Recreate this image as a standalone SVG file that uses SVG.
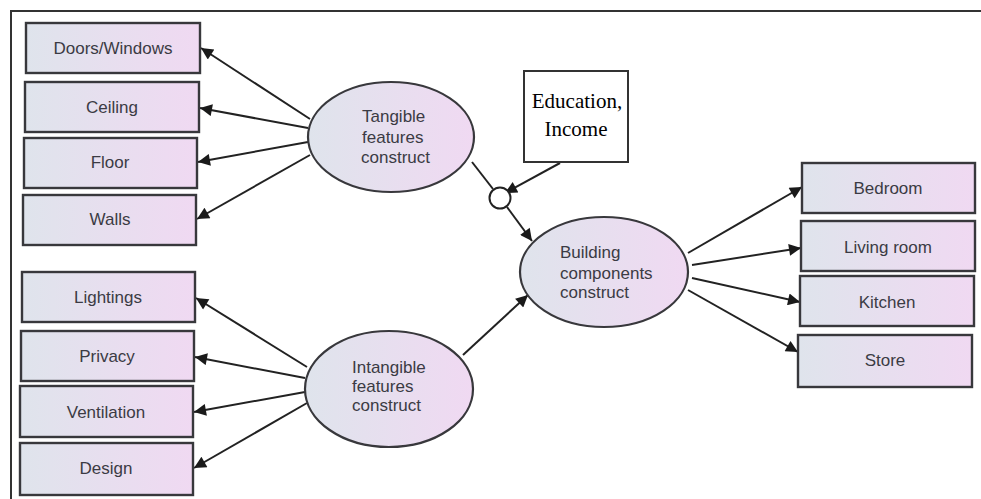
<svg xmlns="http://www.w3.org/2000/svg" width="981" height="499" viewBox="0 0 981 499">
<defs>
<linearGradient id="g" x1="0" y1="0" x2="1" y2="0">
<stop offset="0" stop-color="#dfe4ec"/>
<stop offset="1" stop-color="#f0d9f2"/>
</linearGradient>
<marker id="ah2" viewBox="0 0 10 10" refX="10" refY="5" markerWidth="16" markerHeight="12" markerUnits="userSpaceOnUse" orient="auto">
<path d="M0,0 L10,5 L0,10 z" fill="#1a1a1a"/>
</marker>
</defs>
<style>
.box{fill:url(#g);stroke:#38383c;stroke-width:2.4}
.ell{fill:url(#g);stroke:#38383c;stroke-width:2.2}
.t{font-family:"Liberation Sans",Arial,sans-serif;font-size:17px;fill:#3b3b44;text-anchor:middle}
.te{font-family:"Liberation Sans",Arial,sans-serif;font-size:17px;fill:#3b3b44}
.ts{font-family:"Liberation Serif","Times New Roman",serif;font-size:21px;fill:#000;text-anchor:middle}
.c{stroke:#222;stroke-width:2;fill:none;marker-end:url(#ah2)}
.cn{stroke:#222;stroke-width:2;fill:none}
</style>
<rect width="981" height="499" fill="#fff"/>
<path d="M11,499 L11,11 L981,11" fill="none" stroke="#333" stroke-width="2"/>

<g id="connectors">
<line class="c" x1="310" y1="119" x2="201" y2="48"/>
<line class="c" x1="308" y1="128" x2="200" y2="108"/>
<line class="c" x1="308" y1="142" x2="198" y2="162"/>
<line class="c" x1="310" y1="155" x2="197" y2="219"/>
<line class="c" x1="307" y1="367" x2="196" y2="298"/>
<line class="c" x1="305" y1="378" x2="195" y2="357"/>
<line class="c" x1="305" y1="392" x2="194" y2="412"/>
<line class="c" x1="307" y1="403" x2="194" y2="468"/>
<line class="c" x1="463" y1="355" x2="528" y2="295"/>
<line class="cn" x1="472" y1="162" x2="493" y2="189"/>
<line class="c" x1="507" y1="207" x2="532" y2="241"/>
<line class="c" x1="560" y1="163" x2="505" y2="193"/>
<line class="c" x1="688" y1="253" x2="802" y2="187"/>
<line class="c" x1="692" y1="265" x2="801" y2="248"/>
<line class="c" x1="692" y1="278" x2="800" y2="302"/>
<line class="c" x1="688" y1="290" x2="798" y2="352"/>
</g>

<g id="n-doors"><rect class="box" x="26" y="23" width="174" height="50"/><text class="t" x="113" y="54">Doors/Windows</text></g>
<g id="n-ceiling"><rect class="box" x="25" y="82" width="174" height="50"/><text class="t" x="112" y="113">Ceiling</text></g>
<g id="n-floor"><rect class="box" x="24" y="138" width="173" height="50"/><text class="t" x="110" y="168">Floor</text></g>
<g id="n-walls"><rect class="box" x="23" y="195" width="173" height="50"/><text class="t" x="110" y="225">Walls</text></g>
<g id="n-lightings"><rect class="box" x="22" y="272" width="173" height="50"/><text class="t" x="108" y="303">Lightings</text></g>
<g id="n-privacy"><rect class="box" x="21" y="331" width="173" height="50"/><text class="t" x="107" y="362">Privacy</text></g>
<g id="n-ventilation"><rect class="box" x="20" y="386" width="173" height="51"/><text class="t" x="106" y="418">Ventilation</text></g>
<g id="n-design"><rect class="box" x="20" y="443" width="173" height="52"/><text class="t" x="106" y="474">Design</text></g>

<g id="n-tangible"><ellipse class="ell" cx="391" cy="137" rx="83" ry="55"/>
<text class="te" x="362" y="122">Tangible</text><text class="te" x="362" y="143">features</text><text class="te" x="361" y="163">construct</text></g>
<g id="n-intangible"><ellipse class="ell" cx="389" cy="389" rx="84" ry="58"/>
<text class="te" x="352" y="373">Intangible</text><text class="te" x="352" y="392">features</text><text class="te" x="352" y="411">construct</text></g>
<g id="n-building"><ellipse class="ell" cx="604" cy="272" rx="84" ry="55"/>
<text class="te" x="560" y="258">Building</text><text class="te" x="560" y="279">components</text><text class="te" x="560" y="298">construct</text></g>

<g id="n-education"><rect x="524" y="71" width="104" height="91" fill="#fff" stroke="#333" stroke-width="2"/>
<text class="ts" x="577" y="108">Education,</text><text class="ts" x="576" y="136">Income</text></g>
<g id="n-moderator"><circle cx="500" cy="198" r="10.5" fill="#fff" stroke="#222" stroke-width="2"/></g>

<g id="n-bedroom"><rect class="box" x="802" y="163" width="173" height="50"/><text class="t" x="888" y="194">Bedroom</text></g>
<g id="n-living"><rect class="box" x="801" y="221" width="174" height="50"/><text class="t" x="888" y="253">Living room</text></g>
<g id="n-kitchen"><rect class="box" x="800" y="276" width="174" height="50"/><text class="t" x="887" y="308">Kitchen</text></g>
<g id="n-store"><rect class="box" x="798" y="335" width="174" height="52"/><text class="t" x="885" y="366">Store</text></g>
</svg>
